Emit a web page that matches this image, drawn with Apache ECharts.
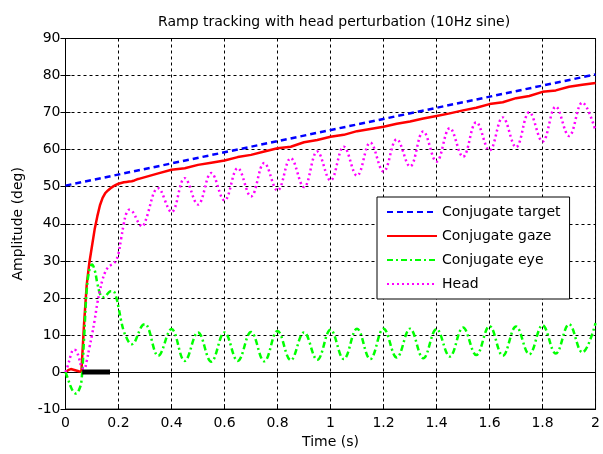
<!DOCTYPE html>
<html>
<head>
<meta charset="utf-8">
<title>Ramp tracking</title>
<script src="https://cdn.jsdelivr.net/npm/echarts@6/dist/echarts.min.js"></script>
<style>
  html, body { margin: 0; padding: 0; background: #fff; }
  #main { width: 603px; height: 454px; }
</style>
</head>
<body>
<div id="main"></div>
<script>
// time (s)
var t = [0, 0.01, 0.02, 0.03, 0.04, 0.05, 0.06, 0.07, 0.08, 0.09,
         0.10, 0.11, 0.12, 0.13, 0.14, 0.15, 0.16, 0.17, 0.18, 0.19,
         0.20, 0.21, 0.22, 0.23, 0.24, 0.25, 0.26, 0.27, 0.28, 0.29, 0.30,
         0.35, 0.40, 0.45, 0.50, 0.55, 0.60, 0.65, 0.70, 0.75, 0.80,
         0.85, 0.90, 0.95, 1.00, 1.05, 1.10, 1.15, 1.20, 1.25, 1.30,
         1.35, 1.40, 1.45, 1.50, 1.55, 1.60, 1.65, 1.70, 1.75, 1.80,
         1.85, 1.90, 1.95, 2.00];

// conjugate target (straight ramp)
var targetT = [0, 2];
var target  = [50.3, 80.3];

// conjugate gaze
var gaze = [0, 0.5, 0.8, 0.6, 0.4, 0.2, 0.1, 13, 23.5, 29.5,
            34, 38.5, 42, 45, 47, 48.3, 49, 49.6, 50.1, 50.5,
            50.8, 51, 51.2, 51.3, 51.4, 51.5, 51.7, 52, 52.2, 52.4, 52.6,
            53.6, 54.6, 55, 55.9, 56.5, 57.1, 58, 58.6, 59.5, 60.4,
            60.8, 62, 62.6, 63.5, 64, 65, 65.6, 66.2, 67, 67.6,
            68.4, 69.1, 69.8, 70.6, 71.3, 72.3, 72.8, 73.9, 74.5, 75.6,
            76, 77, 77.5, 78];

// conjugate eye
var eye = [0, -2, -4, -5.3, -5.8, -5, -2.5, 9, 22, 27.5,
           29, 27.5, 24, 21.2, 20.2, 20.4, 21.2, 21.8, 21.8, 20.5,
           17.5, 13.8, 11, 9.3, 8, 7.5, 8, 9.5, 11.3, 12.6, 12.9,
           4.4, 11.6, 3, 10.7, 2.8, 10.7, 3.0, 10.8, 2.9, 11.1,
           3.2, 10.7, 3.3, 11.4, 3.5, 11.7, 3.5, 11.7, 3.9, 11.7,
           3.7, 11.6, 4.2, 12.0, 4.6, 12.4, 4.4, 12.3, 4.8, 12.6,
           5.0, 12.9, 5.3, 13.2];

// head
var head = [0, 2, 4.5, 6, 5.8, 4, 1.5, 0.8, 3, 6.5,
            10, 14, 18.5, 22, 25, 27, 28.2, 28.8, 29.2, 30,
            32, 36, 40, 42.9, 43.8, 43.5, 42.5, 41, 39.8, 39.3, 40.5,
            49.6, 43.2, 52.3, 45.2, 53.7, 46.3, 55, 47.4, 56.4, 49,
            57.7, 49.9, 59.5, 51.7, 60.8, 53, 61.9, 54.1, 62.8, 55.5,
            64.9, 56.8, 65.8, 58.1, 67.4, 59.8, 68.7, 60.7, 70.1, 62.2,
            71.6, 63.7, 72.7, 65.1];

// thick black marker on the zero line
var barT = [0.063, 0.168];
var barV = [0, 0];

function pairs(xs, ys) {
    var out = [];
    for (var i = 0; i < xs.length; i++) out.push([xs[i], ys[i]]);
    return out;
}

var font = '"DejaVu Sans", sans-serif';
var myChart = echarts.init(document.getElementById('main'));

var option = {
    animation: false,
    backgroundColor: '#fff',
    title: {
        text: 'Ramp tracking with head perturbation (10Hz sine)',
        left: 153,
        top: 10,
        textStyle: { fontFamily: font, fontSize: 14, fontWeight: 'normal', color: '#000' }
    },
    grid: {
        left: 65.5, right: 2.5, top: 38.5, bottom: 44,
        show: true, borderColor: '#000', borderWidth: 1, backgroundColor: '#fff'
    },
    legend: {
        orient: 'vertical',
        left: 377, top: 197,
        padding: [8, 9, 8, 9],
        itemWidth: 50, itemHeight: 14, itemGap: 10,
        backgroundColor: '#fff', borderColor: '#000', borderWidth: 1,
        itemStyle: { opacity: 0 },
        textStyle: { fontFamily: font, fontSize: 14, color: '#000' },
        data: ['Conjugate target', 'Conjugate gaze', 'Conjugate eye', 'Head']
    },
    xAxis: [{
        type: 'value', min: 0, max: 2, interval: 0.2,
        name: 'Time (s)', nameLocation: 'middle', nameGap: 23,
        nameTextStyle: { fontFamily: font, fontSize: 14, color: '#000' },
        axisLine: { show: true, onZero: false, lineStyle: { color: '#000' } },
        axisTick: { show: true, inside: true, length: 5, lineStyle: { color: '#000' } },
        axisLabel: { fontFamily: font, fontSize: 14, color: '#000', margin: 7 },
        splitLine: { show: true, lineStyle: { color: '#000', type: [3, 3], width: 1 } }
    }, {
        type: 'value', min: 0, max: 2, interval: 0.2, position: 'top',
        axisLine: { show: true, lineStyle: { color: '#000' } },
        axisTick: { show: true, inside: true, length: 5, lineStyle: { color: '#000' } },
        axisLabel: { show: false }, splitLine: { show: false }
    }],
    yAxis: [{
        type: 'value', min: -10, max: 90, interval: 10,
        name: 'Amplitude (deg)', nameLocation: 'middle', nameGap: 40,
        nameTextStyle: { fontFamily: font, fontSize: 14, color: '#000' },
        axisLine: { show: true, onZero: false, lineStyle: { color: '#000' } },
        axisTick: { show: true, inside: true, length: 5, lineStyle: { color: '#000' } },
        axisLabel: { fontFamily: font, fontSize: 14, color: '#000', margin: 5 },
        splitLine: { show: true, lineStyle: { color: '#000', type: [3, 3], width: 1 } }
    }, {
        type: 'value', min: -10, max: 90, interval: 10, position: 'right',
        axisLine: { show: true, lineStyle: { color: '#000' } },
        axisTick: { show: true, inside: true, length: 5, lineStyle: { color: '#000' } },
        axisLabel: { show: false }, splitLine: { show: false }
    }],
    series: [
        {
            name: 'Conjugate target', type: 'line', symbol: 'none',
            data: pairs(targetT, target),
            itemStyle: { color: '#0000ff' },
            lineStyle: { color: '#0000ff', width: 2.5, type: [6, 4] }
        },
        {
            name: 'Conjugate gaze', type: 'line', symbol: 'none',
            data: pairs(t, gaze),
            itemStyle: { color: '#ff0000' },
            lineStyle: { color: '#ff0000', width: 2.5, type: 'solid' }
        },
        {
            name: 'Conjugate eye', type: 'line', symbol: 'none', smooth: 0.4,
            data: pairs(t, eye),
            itemStyle: { color: '#00ff00' },
            lineStyle: { color: '#00ff00', width: 2.5, type: [6, 3, 2, 3] }
        },
        {
            name: 'Head', type: 'line', symbol: 'none', smooth: 0.4,
            data: pairs(t, head),
            itemStyle: { color: '#ff00ff' },
            lineStyle: { color: '#ff00ff', width: 2.5, type: [2, 3] }
        },
        {
            name: 'marker', type: 'line', symbol: 'none',
            data: pairs(barT, barV),
            lineStyle: { color: '#000', width: 5 },
            z: 5
        }
    ]
};

myChart.setOption(option);
</script>
</body>
</html>
